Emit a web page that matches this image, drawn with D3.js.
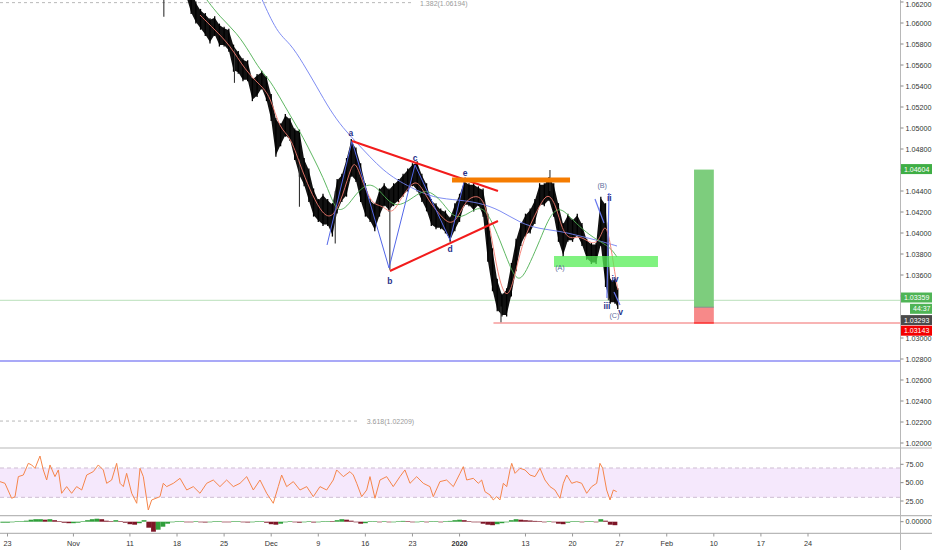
<!DOCTYPE html>
<html><head><meta charset="utf-8">
<script src="https://cdnjs.cloudflare.com/ajax/libs/d3/7.8.5/d3.min.js"></script>
<style>html,body{margin:0;padding:0;background:#fff;overflow:hidden}svg{display:block}text{font-family:"Liberation Sans",Arial,sans-serif}</style>
</head><body><svg id="chart" width="932" height="550"></svg>
<script>
// ================= DATA =================
// time axis: trading-day index (0 = Oct 23)
const timeTicks = [[0,"23"],[7,"Nov"],[13,"11"],[18,"18"],[23,"25"],[28,"Dec"],[33,"9"],[38,"16"],[43,"23"],[48,"2020"],[55,"13"],[60,"20"],[65,"27"],[70,"Feb"],[75,"10"],[80,"17"],[85,"24"]];
const priceTicks = [1.062,1.060,1.058,1.056,1.054,1.052,1.050,1.048,1.046,1.044,1.042,1.040,1.038,1.036,1.034,1.032,1.030,1.028,1.026,1.024,1.022,1.020];
const hiddenTicks = [1.046,1.034,1.032];
const rsiTicks = [75,50,25];

// price bars, half-day steps from index 16
const barStart = 16, barStep = 0.5;
const priceHigh = [
 1.0640,1.0640,1.0645,1.0650,1.0648,1.0645,1.0640,1.0635,1.0619,1.0612,
 1.0608,1.0603,1.0605,1.0598,1.0595,1.0593,1.0578,1.0572,1.0565,1.0563,
 1.0546,1.0550,1.0553,1.0548,1.0531,1.0508,1.0503,1.0512,1.0508,1.0498,
 1.0497,1.0470,1.0460,1.0441,1.0431,1.0436,1.0431,1.0427,1.0450,1.0455,
 1.0470,1.0488,1.0480,1.0465,1.0446,1.0431,1.0427,1.0441,1.0446,1.0441,
 1.0446,1.0450,1.0455,1.0460,1.0465,1.0467,1.0455,1.0446,1.0431,1.0427,
 1.0422,1.0420,1.0414,1.0427,1.0436,1.0449,1.0446,1.0446,1.0443,1.0441,
 1.0417,1.0384,1.0355,1.0341,1.0346,1.0370,1.0393,1.0408,1.0417,1.0422,
 1.0431,1.0446,1.0446,1.0452,1.0446,1.0427,1.0408,1.0417,1.0412,1.0417,
 1.0408,1.0393,1.0389,1.0389,1.0433,1.0427,1.0355,1.0355];
const priceLow = [
 1.0628,1.0628,1.0630,1.0632,1.0630,1.0628,1.0625,1.0610,1.0601,1.0595,
 1.0589,1.0582,1.0589,1.0579,1.0579,1.0574,1.0555,1.0553,1.0546,1.0546,
 1.0527,1.0531,1.0538,1.0527,1.0508,1.0474,1.0484,1.0493,1.0489,1.0471,
 1.0455,1.0446,1.0431,1.0417,1.0412,1.0408,1.0408,1.0398,1.0420,1.0431,
 1.0436,1.0455,1.0450,1.0431,1.0417,1.0412,1.0403,1.0417,1.0427,1.0422,
 1.0427,1.0431,1.0436,1.0441,1.0446,1.0441,1.0431,1.0422,1.0408,1.0405,
 1.0405,1.0401,1.0393,1.0403,1.0412,1.0427,1.0427,1.0422,1.0427,1.0417,
 1.0374,1.0346,1.0327,1.0322,1.0322,1.0341,1.0365,1.0389,1.0398,1.0401,
 1.0410,1.0427,1.0427,1.0432,1.0417,1.0393,1.0379,1.0393,1.0393,1.0398,
 1.0389,1.0376,1.0372,1.0372,1.0389,1.0350,1.0334,1.0334];
const lastBar = [64.8, 1.0346, 1.0329];
const wicks = [[16.6,1.0640,1.0606],[24.1,1.0575,1.0543],[31.0,1.0470,1.0425],[34.8,1.0440,1.0390],[40.6,1.0430,1.0365],[52.4,1.0330,1.0315],[57.6,1.0460,1.0440],[63.8,1.0410,1.0336]];
const lastPrice = 1.03359, entryPrice = 1.03293, stopPrice = 1.03143, targetPrice = 1.04604;

// moving averages [index, price]
const maFast = [[20.44,1.06076],[22.03,1.05933],[23.62,1.0579],[25.22,1.05552],[26.81,1.0541],[27.87,1.05314],[28.93,1.04981],[29.99,1.04933],[31.06,1.04648],[32.12,1.0441],[33.18,1.04219],[34.24,1.04124],[35.31,1.04267],[36.37,1.046],[36.9,1.04695],[37.64,1.04505],[38.7,1.04267],[39.77,1.04267],[40.83,1.04171],[41.68,1.04314],[42.74,1.04457],[43.59,1.04505],[44.65,1.04314],[45.92,1.04171],[46.98,1.04076],[47.83,1.04143],[48.68,1.04314],[49.74,1.04362],[50.7,1.04314],[51.44,1.03933],[52.29,1.03505],[53.14,1.03362],[53.88,1.036],[54.63,1.03886],[55.48,1.04076],[56.54,1.04267],[57.39,1.0439],[58.24,1.04267],[58.88,1.04029],[59.73,1.03933],[60.79,1.03981],[62.06,1.03886],[62.91,1.03933],[63.44,1.04105],[63.98,1.03933],[64.51,1.036],[64.83,1.03457]];
const maMid = [[21.18,1.06219],[22.56,1.06057],[24.37,1.05905],[25.75,1.05714],[26.81,1.05552],[27.87,1.05457],[29.25,1.05238],[30.31,1.05076],[31.37,1.04914],[32.44,1.04724],[33.5,1.04533],[34.46,1.04314],[35.09,1.042],[36.05,1.04248],[36.9,1.04362],[38.17,1.04476],[39.23,1.04438],[40.29,1.04314],[41.36,1.04248],[42.74,1.04314],[44.12,1.0441],[45.18,1.04381],[46.24,1.04286],[47.3,1.04152],[48.36,1.04152],[49.43,1.04219],[50.38,1.04248],[51.23,1.04152],[52.29,1.03933],[53.36,1.03676],[54.1,1.03552],[54.74,1.03581],[55.48,1.03714],[56.54,1.03933],[57.39,1.04124],[58.13,1.04219],[58.88,1.04229],[59.73,1.04152],[61.11,1.04029],[62.59,1.03933],[63.98,1.03867],[64.72,1.03771]];
const maSlow = [[26.9,1.0625],[28.62,1.05905],[29.99,1.0581],[31.37,1.05619],[32.86,1.0539],[34.24,1.05171],[35.62,1.05],[37.11,1.04857],[38.49,1.04724],[39.87,1.046],[41.36,1.04505],[42.74,1.04438],[45.18,1.04333],[48.05,1.04314],[50.17,1.04286],[52.29,1.04219],[54.42,1.04095],[56.54,1.04038],[58.66,1.04019],[60.79,1.03971],[62.91,1.03924],[64.72,1.03876]];

// drawings
const waveAE = [[33.93,1.03886],[36.58,1.04876],[40.51,1.03667],[43.27,1.04648],[46.99,1.03933],[48.6,1.04533]];
const waveEnd = [[[62.38,1.04324],[63.34,1.04095]],[[63.87,1.04381],[63.65,1.03381]],[[64.4,1.03438],[65.04,1.03314]]];
const trendLines = [[[36.58,1.04876],[52.08,1.044]],[[40.61,1.03638],[52.08,1.04114]]];
const resistance = [47.2, 59.73, 1.04505];
const supportZone = [58.03, 69.07, 1.03781, 1.03676];
const positionBox = [72.9, 75.0];
const stopRayStart = 51.6;
const blueLevel = 1.02781;
const fibLevels = [[1.06194, 43.06, "1.382(1.06194)"],[1.02209, 37.4, "3.618(1.02209)"]];
const waveLabels = [["a",36.47,1.04952,1],["b",40.61,1.03543,1],["c",43.27,1.04714,1],["d",46.99,1.03848,1],["e",48.58,1.04571,1],
  ["(B)",63.15,1.04452,2],["ii",63.9,1.04333,1],["iv",64.5,1.03562,1],["iii",63.65,1.03305,1],["(C)",64.45,1.0321,2],["v",65.1,1.03248,1],["(A)",58.66,1.03667,2]];

// RSI [index, value]
const rsi = [[-0.8,51.4],[-0.27,49.1],[0.44,28.7],[0.8,30.9],[1.15,58.2],[1.68,60.4],[2.21,76.3],[2.57,74.1],[2.92,69.5],[3.45,86.3],[3.8,67.3],[4.16,53.6],[4.51,74.1],[5.04,58.2],[5.4,67.3],[5.75,35.5],[6.28,44.6],[6.81,35.5],[7.34,44.6],[7.88,40],[8.41,60.4],[9.11,65],[9.64,74.1],[10.17,67.3],[10.53,49.1],[11.06,53.6],[11.59,76.3],[11.95,49.1],[12.3,44.6],[12.65,62.7],[13.19,35.5],[13.72,21.9],[14.07,69.5],[14.42,58.2],[14.95,12.8],[15.31,26.4],[16.19,30.9],[16.54,49.1],[16.9,44.6],[17.61,49.1],[18.32,55.9],[19.03,40],[19.73,44.6],[20.44,35.5],[21.15,49.1],[21.85,53.6],[22.56,44.6],[23.27,53.6],[23.98,44.6],[24.69,49.1],[25.4,58.2],[26.1,40],[26.81,53.6],[27.52,35.5],[28.22,21.9],[28.75,44.6],[29.11,60.4],[29.64,44.6],[30.35,51.4],[31.06,40],[31.77,44.6],[32.47,30.9],[33.18,44.6],[33.89,40],[34.59,53.6],[34.95,67.3],[35.66,58.2],[36.36,65],[36.72,60.4],[37.08,49.1],[37.61,30.9],[38.14,40],[38.49,58.2],[39.02,28.7],[39.55,53.6],[40.26,58.2],[40.96,44.6],[41.67,58.2],[42.2,67.3],[42.74,49.1],[43.45,58.2],[44.15,49.1],[44.86,44.6],[45.21,30.9],[45.92,51.4],[46.63,53.6],[47.34,44.6],[48.05,62.7],[48.4,71.8],[48.76,53.6],[49.46,55.9],[49.99,49.1],[50.35,53.6],[50.7,37.7],[51.23,33.2],[51.58,26.4],[51.94,30.9],[52.29,26.4],[52.65,49.1],[53.01,44.6],[53.36,67.3],[53.54,76.3],[53.89,62.7],[54.42,69.5],[54.95,67.3],[55.48,60.4],[56.01,58.2],[56.54,69.5],[57.07,53.6],[57.6,44.6],[58.13,40],[58.66,28.7],[59.02,49.1],[59.38,60.4],[59.91,49.1],[60.44,51.4],[60.97,49.1],[61.5,35.5],[62.03,44.6],[62.56,49.1],[62.91,76.3],[63.2,69.5],[63.62,40],[63.98,26.4],[64.33,40],[64.69,37.7]];

// histogram (pips), half-day steps from index -0.5
const histStart = -0.5, histStep = 0.5;
const histPips = [
 -1,-1,-0.5,0.3,0.5,1,2,2.5,2.5,2,
 2.5,1.5,0.5,-1,-1.5,-1.5,-1,0.5,1.5,2.5,
 3,2.5,1,0.5,1.5,0.5,-1,-2.5,-3,-1.5,
 1.5,-6,-10,-8,-5,-2,-0.5,0.3,0.5,-0.3,
 -0.5,0.3,-0.5,-0.8,-0.5,0.3,0.5,-0.3,-0.5,0.3,
 0.5,-0.5,-0.8,-0.3,0.3,0.5,-1,-2.5,-3,-2,
 -0.5,0.5,-0.5,-1,-0.5,0.5,-0.8,-0.5,0.3,0.5,
 0.3,1.5,2.5,2,1,-0.5,-2,-1.5,0.3,0.5,
 -0.3,0.5,-0.5,-0.3,0.5,0.8,0.3,-0.5,-0.3,0.3,
 -0.5,0.3,0.5,-0.3,0.3,0.8,1.5,2,1.5,0.3,
 -0.3,-0.5,-2,-3,-3.5,-2.5,-1.5,-0.5,1.5,2.5,
 2,1.5,1.2,0.8,0.3,-0.3,0.3,-0.5,-2,-2.5,
 -1,0.3,0.3,-0.3,0.3,0.5,-0.3,2.5,1,-3,
 -3.5];

// ================= DRAW =================
const svg = d3.select("#chart");
const AX = 900.5;
const x = d3.scaleLinear().domain([0,85]).range([7.5,808]);
const y = d3.scaleLinear().domain([1.02,1.06]).range([443,23]);
const yR = d3.scaleLinear().domain([25,75]).range([501,464.3]);
const yH = d3.scaleLinear().domain([-0.001,0.001]).range([531.7,511.7]);

const defs = svg.append("defs");
defs.append("clipPath").attr("id","cMain").append("rect").attr("x",0).attr("y",0).attr("width",AX).attr("height",447.5);
defs.append("clipPath").attr("id","cRsi").append("rect").attr("x",0).attr("y",448.5).attr("width",AX).attr("height",66.7);
defs.append("clipPath").attr("id","cHist").append("rect").attr("x",0).attr("y",516.2).attr("width",AX).attr("height",16.6);

const main = svg.append("g").attr("clip-path","url(#cMain)");

// fib dashed levels
fibLevels.forEach(f=>{
  main.append("line").attr("x1",0).attr("x2",x(f[1])).attr("y1",y(f[0])).attr("y2",y(f[0]))
    .attr("stroke","#b0b0b0").attr("stroke-width",0.9).attr("stroke-dasharray","3,3");
  main.append("text").attr("x",x(f[1])+7).attr("y",y(f[0])+0.8).attr("dy","0.35em")
    .attr("font-size",7).attr("fill","#9a9a9a").text(f[2]);
});

// horizontal levels
main.append("line").attr("x1",0).attr("x2",AX).attr("y1",y(blueLevel)).attr("y2",y(blueLevel)).attr("stroke","#8c8cf5").attr("stroke-width",1.4);
main.append("line").attr("x1",0).attr("x2",AX).attr("y1",y(lastPrice)).attr("y2",y(lastPrice)).attr("stroke","#b9e0bb").attr("stroke-width",1);
main.append("line").attr("x1",x(stopRayStart)).attr("x2",AX).attr("y1",y(stopPrice)).attr("y2",y(stopPrice)).attr("stroke","#f26a6a").attr("stroke-width",1.2);

// candles
const bars = priceHigh.map((h,i)=>({i:barStart+i*barStep,h:h,l:priceLow[i]}));
bars.push({i:lastBar[0],h:lastBar[1],l:lastBar[2]});
main.append("path").datum(bars)
  .attr("d", d3.area().x(d=>x(d.i)).y0(d=>y(d.l)).y1(d=>y(d.h)))
  .attr("fill","#111");
main.selectAll("line.bar").data(bars).join("line")
  .attr("x1",d=>x(d.i)).attr("x2",d=>x(d.i)).attr("y1",d=>y(d.h)-1.5).attr("y2",d=>y(d.l)+1.5)
  .attr("stroke","#000").attr("stroke-width",1.3);
main.selectAll("line.wick").data(wicks).join("line")
  .attr("x1",d=>x(d[0])).attr("x2",d=>x(d[0])).attr("y1",d=>y(d[1])).attr("y2",d=>y(d[2]))
  .attr("stroke","#333").attr("stroke-width",1.1);

// moving averages
const line = d3.line().x(d=>x(d[0])).y(d=>y(d[1])).curve(d3.curveBasis);
main.append("path").datum(maSlow).attr("d",line).attr("fill","none").attr("stroke","#6f7ff0").attr("stroke-width",0.9);
main.append("path").datum(maMid).attr("d",line).attr("fill","none").attr("stroke","#4caf50").attr("stroke-width",0.9);
main.append("path").datum(maFast).attr("d",line).attr("fill","none").attr("stroke","#f47a6e").attr("stroke-width",0.9);

// wave lines
const pl = d3.line().x(d=>x(d[0])).y(d=>y(d[1]));
main.append("path").datum(waveAE).attr("d",pl).attr("fill","none").attr("stroke","#5266e8").attr("stroke-width",1);
waveEnd.forEach(s=>main.append("path").datum(s).attr("d",pl).attr("fill","none").attr("stroke","#6677ee").attr("stroke-width",1.2));

// trend lines
trendLines.forEach(s=>main.append("path").datum(s).attr("d",pl).attr("fill","none").attr("stroke","#f21c1c").attr("stroke-width",2));
main.append("line").attr("x1",x(resistance[0])).attr("x2",x(resistance[1])).attr("y1",y(resistance[2])).attr("y2",y(resistance[2]))
  .attr("stroke","#f57c00").attr("stroke-width",5);

// support zone
main.append("rect").attr("x",x(supportZone[0])).attr("width",x(supportZone[1])-x(supportZone[0]))
  .attr("y",y(supportZone[2])).attr("height",y(supportZone[3])-y(supportZone[2]))
  .attr("fill","#55ee55").attr("opacity",0.75);

// position tool
main.append("rect").attr("x",x(positionBox[0])).attr("width",x(positionBox[1])-x(positionBox[0]))
  .attr("y",y(targetPrice)).attr("height",y(entryPrice)-y(targetPrice)).attr("fill","#7dcd7d");
main.append("rect").attr("x",x(positionBox[0])).attr("width",x(positionBox[1])-x(positionBox[0]))
  .attr("y",y(entryPrice)).attr("height",y(stopPrice)-y(entryPrice)).attr("fill","#f78989");
main.append("line").attr("x1",x(positionBox[0])).attr("x2",x(positionBox[1])).attr("y1",y(entryPrice)).attr("y2",y(entryPrice)).attr("stroke","#8a8a8a").attr("stroke-width",1);
main.append("line").attr("x1",x(positionBox[0])).attr("x2",x(positionBox[1])).attr("y1",y(stopPrice)).attr("y2",y(stopPrice)).attr("stroke","#f00").attr("stroke-width",1.2);

// wave labels
main.selectAll("text.wl").data(waveLabels).join("text")
  .attr("x",d=>x(d[1])).attr("y",d=>y(d[2])).attr("dy","0.35em").attr("text-anchor","middle")
  .attr("font-size",d=>d[3]===1?8.5:7.2).attr("font-weight",d=>d[3]===1?"bold":"normal")
  .attr("fill",d=>d[3]===1?"#27318a":"#5f6e9e").text(d=>d[0]);

// ---- RSI pane ----
const rp = svg.append("g").attr("clip-path","url(#cRsi)");
rp.append("rect").attr("x",0).attr("width",AX).attr("y",yR(70)).attr("height",yR(30)-yR(70)).attr("fill","#f5e8fc");
[70,30].forEach(v=>rp.append("line").attr("x1",0).attr("x2",AX).attr("y1",yR(v)).attr("y2",yR(v)).attr("stroke","#c9b8cf").attr("stroke-dasharray","4,3").attr("stroke-width",0.9));
rp.append("path").datum(rsi).attr("d",d3.line().x(d=>x(d[0])).y(d=>yR(d[1]))).attr("fill","none").attr("stroke","#f5854a").attr("stroke-width",1);

// ---- histogram pane ----
const hp = svg.append("g").attr("clip-path","url(#cHist)");
const hist = histPips.map((v,i)=>({i:histStart+i*histStep,v:v*1e-4,up:i===0?true:v>=histPips[i-1]}));
hp.selectAll("rect").data(hist).join("rect")
  .attr("x",d=>x(d.i)-2.4).attr("width",4.8)
  .attr("y",d=>Math.min(yH(d.v),yH(0))).attr("height",d=>Math.max(0.6,Math.abs(yH(d.v)-yH(0))))
  .attr("fill",d=>d.up?"#2f9e3a":"#7d1526");

// ---- separators & axes ----
[448,515.7,533.3].forEach(v=>svg.append("line").attr("x1",0).attr("x2",932).attr("y1",v).attr("y2",v).attr("stroke","#b8b8b8").attr("stroke-width",1.2));
svg.append("line").attr("x1",AX).attr("x2",AX).attr("y1",0).attr("y2",550).attr("stroke","#b8b8b8").attr("stroke-width",1);

const ax = svg.append("g");
priceTicks.forEach(v=>{
  ax.append("line").attr("x1",AX).attr("x2",AX+3).attr("y1",y(v)).attr("y2",y(v)).attr("stroke","#888");
  if (hiddenTicks.some(h=>Math.abs(h-v)<1e-9)) return;
  ax.append("text").attr("x",AX+5).attr("y",Math.max(y(v),4)).attr("dy","0.35em").attr("font-size",7.2).attr("fill","#333").text(v.toFixed(5));
});
rsiTicks.forEach(v=>{
  ax.append("line").attr("x1",AX).attr("x2",AX+3).attr("y1",yR(v)).attr("y2",yR(v)).attr("stroke","#888");
  ax.append("text").attr("x",AX+5).attr("y",yR(v)).attr("dy","0.35em").attr("font-size",7.2).attr("fill","#333").text(v.toFixed(2));
});
ax.append("line").attr("x1",AX).attr("x2",AX+3).attr("y1",yH(0)).attr("y2",yH(0)).attr("stroke","#888");
ax.append("text").attr("x",AX+5).attr("y",yH(0)).attr("dy","0.35em").attr("font-size",7.2).attr("fill","#333").text((0).toFixed(5));

// price-axis markers
function marker(yc, txt, fill, x0){
  ax.append("rect").attr("x",x0).attr("y",yc-5).attr("width",932-x0).attr("height",10).attr("fill",fill);
  ax.append("text").attr("x",x0+3).attr("y",yc).attr("dy","0.35em").attr("font-size",7).attr("fill","#fff").text(txt);
}
marker(y(targetPrice)-0.5, targetPrice.toFixed(5), "#3fae45", 901);
const baseY = y(lastPrice)-2.8;
marker(baseY, lastPrice.toFixed(5), "#4fb456", 901);
marker(baseY+11.3, "44:37", "#4fb456", 910);
marker(baseY+22.6, entryPrice.toFixed(5), "#4a4a4a", 901);
marker(baseY+33.2, stopPrice.toFixed(5), "#f40000", 901);

// time axis
timeTicks.forEach(t=>{
  ax.append("line").attr("x1",x(t[0])).attr("x2",x(t[0])).attr("y1",533.3).attr("y2",536.5).attr("stroke","#999");
  ax.append("text").attr("x",x(t[0])).attr("y",543).attr("dy","0.35em").attr("text-anchor","middle")
    .attr("font-size",7.3).attr("font-weight",t[1]==="2020"?"bold":"normal").attr("fill","#333").text(t[1]);
});
</script></body></html>
